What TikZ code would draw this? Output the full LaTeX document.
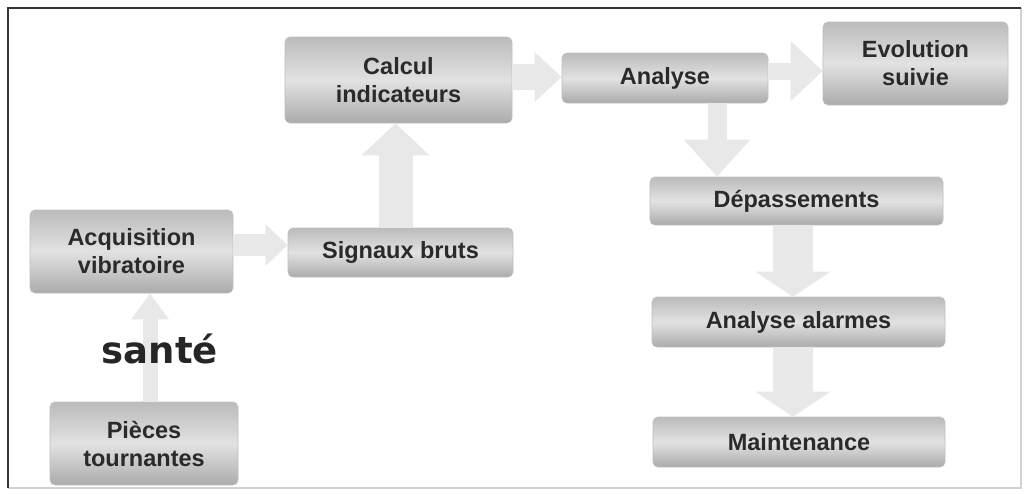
\documentclass[tikz,border=0pt]{standalone}
\usepackage{fontspec}
\setmainfont{Liberation Sans}
\newfontfamily\santefont{DejaVu Sans}
\usetikzlibrary{arrows.meta,calc}
\definecolor{boxtxt}{HTML}{2A2A2A}
\definecolor{arrowfill}{HTML}{E8E8E8}
\definecolor{boxtop}{HTML}{BBBBBB}
\definecolor{boxbot}{HTML}{ABABAB}
\definecolor{boxmid}{HTML}{E2E2E2}
\tikzset{
  procbox/.style={rounded corners=5pt, top color=boxtop, bottom color=boxbot, middle color=boxmid,
    draw=gray!50, line width=0.6pt, inner sep=0pt, align=center, text=boxtxt,
    font=\fontsize{23.5}{28}\selectfont\bfseries},
}
\begin{document}
\begin{tikzpicture}[x=1pt,y=-1pt]
\useasboundingbox (0,0) rectangle (1028,493);
\fill[white] (0,0) rectangle (1028,493);
% frame
\draw[gray!35, line width=1.2pt] (8,488) -- (1021,488) -- (1021,8);
\draw[black!80, line width=1.8pt] (8,488) -- (8,8) -- (1021,8);

% nodes
\node[procbox, minimum width=227pt, minimum height=86pt] (calc) at (398.5,80) {Calcul\\indicateurs};
\node[procbox, minimum width=203pt, minimum height=83pt] (acq) at (131.5,251.5) {Acquisition\\vibratoire};
\node[procbox, minimum width=225pt, minimum height=49pt] (sig) at (400.5,252.5) {Signaux bruts};
\node[procbox, minimum width=188pt, minimum height=83pt] (pieces) at (144,443.5) {Pièces\\tournantes};
\node[procbox, minimum width=206pt, minimum height=50pt] (ana) at (665,78) {Analyse};
\node[procbox, minimum width=185pt, minimum height=83pt] (evo) at (915.5,63.5) {Evolution\\suivie};
\node[procbox, minimum width=293pt, minimum height=48pt] (dep) at (796.5,201) {Dépassements};
\node[procbox, minimum width=293pt, minimum height=50pt] (alarm) at (798.5,322) {Analyse alarmes};
\node[procbox, minimum width=292pt, minimum height=50pt] (maint) at (799,442) {Maintenance};

% arrows
\draw[arrowfill, line width=15pt, -{Triangle[width=36pt,length=26pt]}] ([xshift=6pt]pieces.north) -- ([xshift=18.5pt]acq.south);
\draw[arrowfill, line width=22pt, -{Triangle[width=40pt,length=22pt]}] ([yshift=6.5pt]acq.east) -- ([yshift=7.5pt]sig.west);
\draw[arrowfill, line width=34pt, -{Triangle[width=66pt,length=32pt]}] ([xshift=-5pt]sig.north) -- ([xshift=-3pt]calc.south);
\draw[arrowfill, line width=26pt, -{Triangle[width=48pt,length=27pt]}] ([yshift=3pt]calc.east) -- ([yshift=1pt]ana.west);
\draw[arrowfill, line width=17pt, -{Triangle[width=58pt,length=32pt]}] ([yshift=7pt]ana.east) -- ([yshift=-7.5pt]evo.west);
\draw[arrowfill, line width=19pt, -{Triangle[width=64pt,length=37pt]}] ([xshift=52pt]ana.south) -- ([xshift=-79.5pt]dep.north);
\draw[arrowfill, line width=40pt, -{Triangle[width=74pt,length=25pt]}] ([xshift=-3.5pt]dep.south) -- ([xshift=-5.5pt]alarm.north);
\draw[arrowfill, line width=40pt, -{Triangle[width=74pt,length=25pt]}] ([xshift=-5.5pt]alarm.south) -- ([xshift=-6pt]maint.north);

\node[font=\santefont\bfseries\fontsize{37}{40}\selectfont, text=black!85] (sante) at (160,349) {santé};
\end{tikzpicture}
\end{document}
